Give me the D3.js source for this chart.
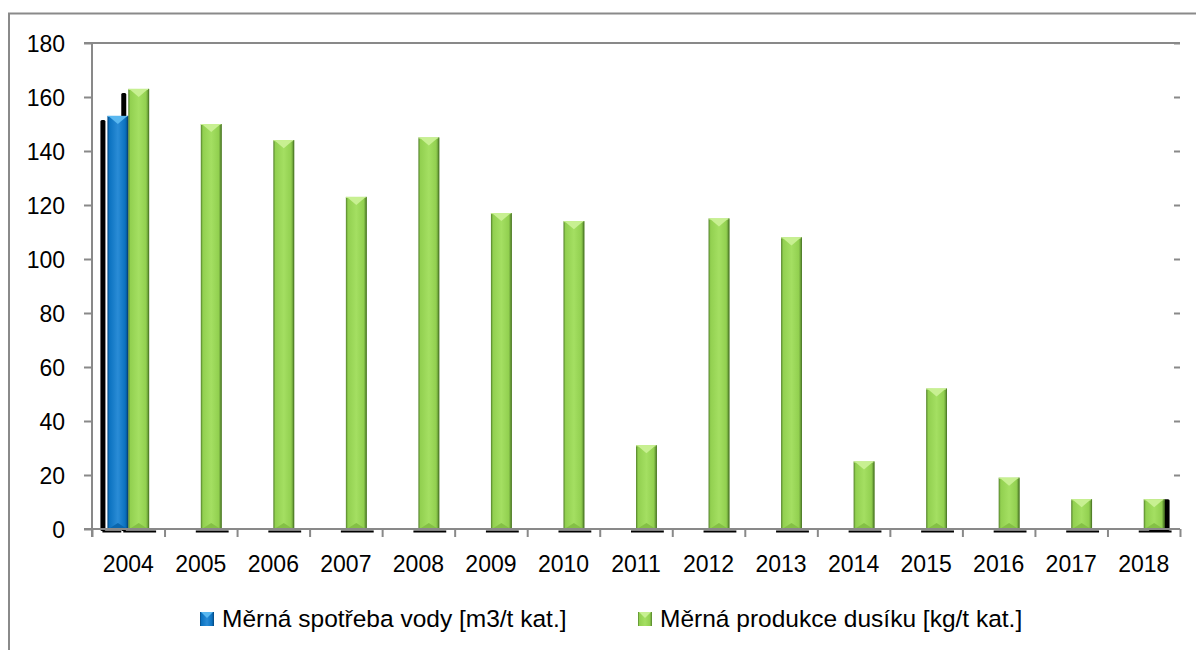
<!DOCTYPE html>
<html>
<head>
<meta charset="utf-8">
<script src="https://cdn.jsdelivr.net/npm/d3@7/dist/d3.min.js"></script>
<style>
  body { margin: 0; background: #fff; }
  text { font-family: "Liberation Sans", Arial, sans-serif; fill: #000; }
</style>
</head>
<body>
<svg id="chart" width="1196" height="650"></svg>
<script>
// data
var years = ["2004", "2005", "2006", "2007", "2008", "2009", "2010", "2011",
             "2012", "2013", "2014", "2015", "2016", "2017", "2018"];
var water = [153, null, null, null, null, null, null, null,
             null, null, null, null, null, null, null];
var nitrogen = [163, 150, 144, 123, 145, 117, 114, 31, 115, 108, 25, 52, 19, 11, 11];
var seriesNames = ["Měrná spotřeba vody [m3/t kat.]", "Měrná produkce dusíku [kg/t kat.]"];
var yTicks = [0, 20, 40, 60, 80, 100, 120, 140, 160, 180];

var plotLeft = 92, plotRight = 1180, plotTop = 43, plotBottom = 529;
var axisColor = "#898989";

var svg = d3.select("#chart");

var palettes = [
    {main: "#0b72c0", dark: "#05467c", light: "#2a8cd6", tri: "#5ab8f0", bot: "#0a66ad"},
    {main: "#92d050", dark: "#52802a", light: "#a4df62", tri: "#c8f092", bot: "#84c046"}
];

var defs = svg.append("defs");
palettes.forEach(function(p, i) {
    var g = defs.append("linearGradient").attr("id", "grad" + i)
        .attr("x1", 0).attr("x2", 1).attr("y1", 0).attr("y2", 0);
    g.append("stop").attr("offset", 0).attr("stop-color", p.dark);
    g.append("stop").attr("offset", 0.1).attr("stop-color", p.main);
    g.append("stop").attr("offset", 0.5).attr("stop-color", p.light);
    g.append("stop").attr("offset", 0.85).attr("stop-color", p.main);
    g.append("stop").attr("offset", 1).attr("stop-color", p.dark);
});

// outer chart border
svg.append("rect")
    .attr("x", 9).attr("y", 13.5)
    .attr("width", 1200).attr("height", 700)
    .attr("fill", "none").attr("stroke", "#8a8a8a").attr("stroke-width", 2);

var y = d3.scaleLinear().domain([0, 180]).range([plotBottom, plotTop]);
var x0 = d3.scaleBand().domain(years).range([plotLeft, plotRight]).padding(0);
var x1 = d3.scaleBand().domain([0, 1]).range([0, x0.bandwidth()]).paddingInner(0).paddingOuter(0.74);
var xEdge = d3.scaleLinear().domain([0, years.length]).range([plotLeft, plotRight]);

// top line at 180
svg.append("line")
    .attr("x1", 84).attr("x2", plotRight)
    .attr("y1", y(180)).attr("y2", y(180))
    .attr("stroke", axisColor).attr("stroke-width", 2);

// left axis
var yAxis = svg.append("g")
    .attr("transform", `translate(${plotLeft},0)`)
    .call(d3.axisLeft(y).tickValues(yTicks).tickSize(8).tickSizeOuter(0).tickPadding(19));
yAxis.select(".domain").remove();
yAxis.selectAll("line").attr("stroke", axisColor).attr("stroke-width", 2);
yAxis.selectAll("text").attr("font-size", 23).attr("font-family", "Liberation Sans, Arial, sans-serif").attr("dy", "0.36em");
svg.append("line")
    .attr("x1", plotLeft).attr("x2", plotLeft).attr("y1", plotTop).attr("y2", plotBottom + 8)
    .attr("stroke", axisColor).attr("stroke-width", 2);

// right side inner ticks
var rAxis = svg.append("g")
    .attr("transform", `translate(${plotRight},0)`)
    .call(d3.axisLeft(y).tickValues(yTicks.slice(1)).tickSize(6).tickSizeOuter(0).tickFormat(""));
rAxis.select(".domain").remove();
rAxis.selectAll("line").attr("stroke", axisColor).attr("stroke-width", 2);

// shadows under the baseline
var shadowG = svg.append("g");
years.forEach(function(yr, i) {
    [water, nitrogen].forEach(function(s, k) {
        if (s[i] == null) return;
        var bx = x0(yr) + x1(k), bw = x1.bandwidth();
        shadowG.append("line")
            .attr("x1", bx - 5).attr("x2", k == 0 ? bx + bw - 7 : bx + bw + 7)
            .attr("y1", plotBottom + 2.5).attr("y2", plotBottom + 2.5)
            .attr("stroke", "#000").attr("stroke-width", 2);
        // perspective side shadow for the outermost bars
        if (i == 0 || i == years.length - 1) {
            var dx = i == 0 ? -7 : 5;
            var dy = i == 0 ? 4 : 0;
            shadowG.append("rect")
                .attr("x", bx + dx).attr("y", y(s[i]) + dy)
                .attr("width", i == 0 ? 5 : bw).attr("height", plotBottom + 2 - y(s[i]) - dy)
                .attr("rx", 1.5)
                .attr("fill", "#000");
        }
    });
});

// bars
var barsG = svg.append("g");
years.forEach(function(yr, i) {
    [water, nitrogen].forEach(function(s, k) {
        if (s[i] == null) return;
        var p = palettes[k];
        var bx = x0(yr) + x1(k), bw = x1.bandwidth();
        var by = y(s[i]), bh = y(0) - y(s[i]);
        var g = barsG.append("g");
        g.append("rect")
            .attr("x", bx).attr("y", by).attr("width", bw).attr("height", bh)
            .attr("fill", `url(#grad${k})`);
        var th = Math.min(8, bh / 2);
        g.append("polygon")
            .attr("points", [[bx + 1, by], [bx + bw - 1, by], [bx + bw / 2, by + th]].join(" "))
            .attr("fill", p.tri);
        g.append("line")
            .attr("x1", bx).attr("x2", bx + bw).attr("y1", by + 0.5).attr("y2", by + 0.5)
            .attr("stroke", p.tri).attr("stroke-width", 1);
        var bth = Math.min(6, bh / 2);
        g.append("polygon")
            .attr("points", [[bx + 1, y(0)], [bx + bw - 1, y(0)], [bx + bw / 2, y(0) - bth]].join(" "))
            .attr("fill", p.bot);
        g.append("line")
            .attr("x1", bx + bw - 0.5).attr("x2", bx + bw - 0.5).attr("y1", by).attr("y2", y(0))
            .attr("stroke", p.dark).attr("stroke-width", 1);
    });
});

// bottom axis with category boundary ticks
svg.append("line")
    .attr("x1", 84).attr("x2", plotRight)
    .attr("y1", plotBottom).attr("y2", plotBottom)
    .attr("stroke", axisColor).attr("stroke-width", 2);
var edgeAxis = svg.append("g")
    .attr("transform", `translate(0,${plotBottom})`)
    .call(d3.axisBottom(xEdge).tickValues(d3.range(years.length + 1)).tickSize(8).tickFormat(""));
edgeAxis.select(".domain").remove();
edgeAxis.selectAll("line").attr("stroke", axisColor).attr("stroke-width", 2);

var xAxis = svg.append("g")
    .attr("transform", `translate(0,${plotBottom})`)
    .call(d3.axisBottom(x0).tickSize(0).tickPadding(27));
xAxis.select(".domain").remove();
xAxis.selectAll("text").attr("font-size", 23).attr("font-family", "Liberation Sans, Arial, sans-serif");

// legend
var legendX = [200, 638];
var legend = svg.append("g");
seriesNames.forEach(function(name, k) {
    var p = palettes[k];
    var lg = legend.append("g").attr("transform", `translate(${legendX[k]},612)`);
    lg.append("rect").attr("width", 14).attr("height", 14).attr("fill", `url(#grad${k})`);
    lg.append("polygon").attr("points", "1,0 13,0 7,6").attr("fill", p.tri);
    lg.append("text").attr("x", 22).attr("y", 15)
        .attr("font-size", 24.5)
        .text(name);
});
</script>
</body>
</html>
